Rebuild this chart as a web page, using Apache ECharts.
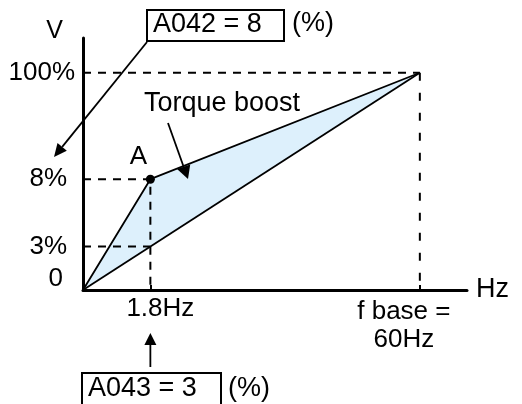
<!DOCTYPE html>
<html><head><meta charset="utf-8">
<script src="https://cdn.jsdelivr.net/npm/echarts@6/dist/echarts.min.js"></script>
<style>html,body{margin:0;padding:0;background:#fff}#c{width:522px;height:404px}</style>
</head><body><div id="c"></div>
<script>
// Schematic (not-to-scale) positions as drawn in the diagram
const xTickPos = [20, 100];
const xTickLabels = ['1.8Hz', 'f base =\n60Hz'];
const yTickPos = [0, 20, 51, 100];
const yTickLabels = ['0', '3%', '8%', '100%'];
const boostCurve = [[0, 0], [20, 51], [100, 100]];
const linearCurve = [[0, 0], [100, 100]];
const pointA = [[20, 51]];
const guide100 = [[0, 100], [100, 100], [100, 0]];
const guide8 = [[0, 51], [20, 51], [20, 0]];
const guide3 = [[0, 20], [20, 20]];

const FONT = '"Liberation Sans", Arial, Helvetica, sans-serif';
const chart = echarts.init(document.getElementById('c'), null, {renderer: 'canvas'});

function dashSeries(data, dash) {
  return {type: 'line', data: data, symbol: 'none', silent: true, z: 3,
    lineStyle: {color: '#000', width: 2, type: dash || [8, 7]}};
}

chart.setOption({
  animation: false,
  grid: {left: 83, right: 55, top: 38, bottom: 114, containLabel: false},
  xAxis: {
    type: 'value', min: 0, max: 114,
    name: 'Hz', nameLocation: 'end', nameGap: 9, nameMoveOverlap: false,
    nameTextStyle: {fontSize: 27, fontFamily: FONT, color: '#000', align: 'left', verticalAlign: 'middle', padding: [0, 0, 7, 0]},
    axisLine: {lineStyle: {color: '#000', width: 3}},
    axisTick: {show: true, inside: true, length: 5, customValues: xTickPos, lineStyle: {color: '#000', width: 2}},
    axisLabel: {
      customValues: xTickPos, margin: 6, color: '#000', fontFamily: FONT, fontSize: 26,
      formatter: function (v) {
        const i = xTickPos.indexOf(v);
        if (i === 0) return '{a|' + xTickLabels[0] + '}';
        return xTickLabels[i].split('\n').map(function (s) { return '{b|' + s + '}'; }).join('\n');
      },
      rich: {
        a: {fontSize: 26, fontFamily: FONT, color: '#000', padding: [0, 0, 0, 20]},
        b: {fontSize: 26, fontFamily: FONT, color: '#000', lineHeight: 28, padding: [4, 32, 0, 0]}
      }
    },
    splitLine: {show: false}
  },
  yAxis: {
    type: 'value', min: 0, max: 116,
    name: 'V', nameLocation: 'end', nameGap: -6, nameMoveOverlap: false,
    nameTextStyle: {fontSize: 25, fontFamily: FONT, color: '#000', align: 'right', padding: [0, 20, 0, 0]},
    axisLine: {lineStyle: {color: '#000', width: 3}},
    axisTick: {show: false},
    axisLabel: {
      customValues: yTickPos, margin: 8, color: '#000', fontFamily: FONT, fontSize: 26,
      formatter: function (v) {
        const i = yTickPos.indexOf(v);
        const key = i === 0 ? 'z' : (i === 3 ? 'h' : 'p');
        return '{' + key + '|' + yTickLabels[i] + '}';
      },
      rich: {
        z: {fontSize: 26, fontFamily: FONT, color: '#000', padding: [0, 12, 22, 0]},
        p: {fontSize: 26, fontFamily: FONT, color: '#000', padding: [0, 8, 0, 0]},
        h: {fontSize: 26, fontFamily: FONT, color: '#000', padding: [0, 0, 0, 0]}
      }
    },
    splitLine: {show: false}
  },
  series: [
    {
      type: 'custom', z: 1, silent: true, data: [[0, 0]],
      renderItem: function (params, api) {
        const pts = boostCurve.map(function (p) { return api.coord(p); });
        return {type: 'polygon', shape: {points: pts}, style: {fill: '#ddf0fc'}};
      }
    },
    dashSeries(guide100.slice(0, 2)),
    dashSeries(guide100.slice(1), [8, 12]),
    dashSeries(guide8),
    dashSeries(guide3),
    {type: 'line', data: linearCurve, symbol: 'none', z: 4, lineStyle: {color: '#000', width: 1.8}},
    {type: 'line', data: boostCurve, symbol: 'none', z: 4, lineStyle: {color: '#000', width: 1.8}},
    {
      type: 'scatter', data: pointA, symbol: 'circle', symbolSize: 9, z: 5,
      itemStyle: {color: '#000', opacity: 1},
      label: {show: true, formatter: 'A', position: 'top', offset: [-12, 0], opacity: 1,
        fontSize: 26, fontFamily: FONT, color: '#000', textBorderWidth: 0}
    }
  ]
});

function arrowHead(tip, from, len, half) {
  const dx = tip[0] - from[0], dy = tip[1] - from[1];
  const L = Math.sqrt(dx * dx + dy * dy);
  const ux = dx / L, uy = dy / L;
  const bx = tip[0] - ux * len, by = tip[1] - uy * len;
  return {base: [bx, by], pts: [tip, [bx - uy * half, by + ux * half], [bx + uy * half, by - ux * half]]};
}
function arrow(from, tip, len, half) {
  const h = arrowHead(tip, from, len, half);
  return [
    {type: 'line', shape: {x1: from[0], y1: from[1], x2: h.base[0], y2: h.base[1]}, style: {stroke: '#000', lineWidth: 1.8}},
    {type: 'polygon', shape: {points: h.pts}, style: {fill: '#000'}}
  ];
}
function txt(s, x, y) {
  return {type: 'text', style: {text: s, x: x, y: y, font: '27px ' + FONT, fill: '#000', align: 'left', verticalAlign: 'middle'}};
}

const ax = chart.convertToPixel({xAxisIndex: 0}, xTickPos[0]);
const elems = [].concat(
  [{type: 'rect', shape: {x: 147, y: 10, width: 137, height: 31}, style: {fill: 'none', stroke: '#000', lineWidth: 2}},
   txt('A042 = 8', 153, 25), txt('(%)', 292, 24)],
  arrow([147, 42], [54, 157], 13, 6),
  [txt('Torque boost', 144, 104)],
  arrow([168, 123], [188, 179], 13, 7),
  [{type: 'rect', shape: {x: 82, y: 373, width: 139, height: 40}, style: {fill: 'none', stroke: '#000', lineWidth: 2}},
   txt('A043 = 3', 88, 389), txt('(%)', 228, 389)],
  arrow([ax, 367], [ax, 333], 12, 6)
);
chart.setOption({graphic: {elements: elems.map(function (e) { e.z = 10; return e; })}});
</script>
</body></html>
